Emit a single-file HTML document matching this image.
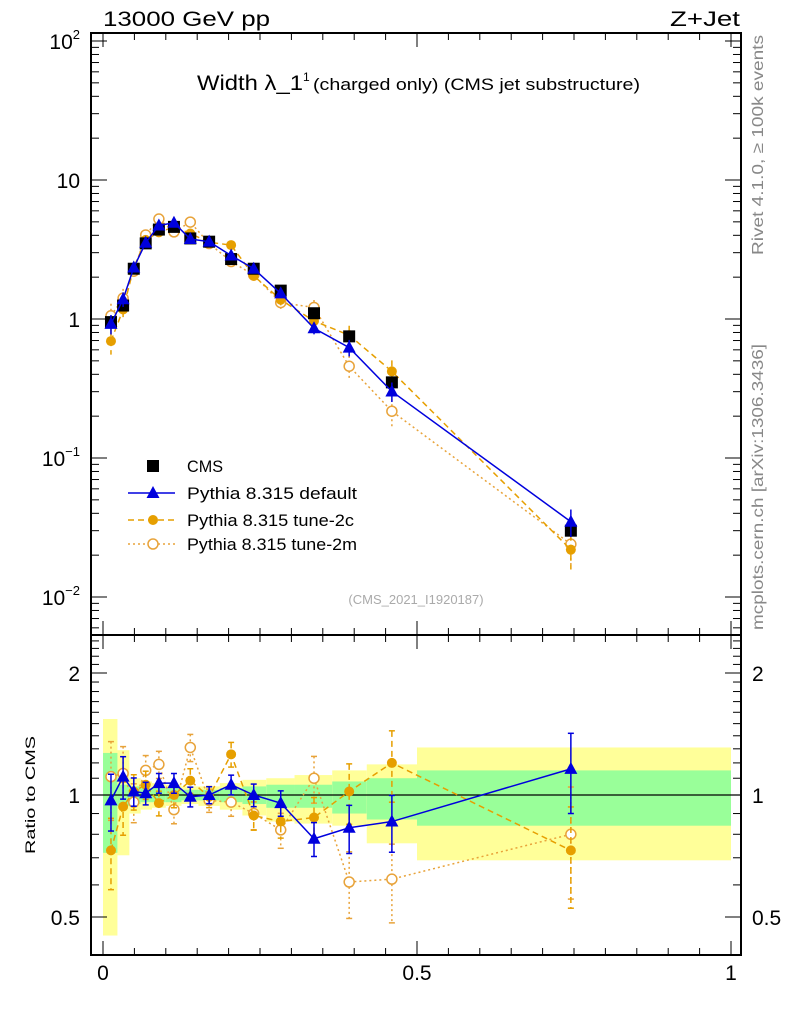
<!DOCTYPE html>
<html><head><meta charset="utf-8"><style>
body{margin:0;background:#fff;}
svg{display:block;font-family:"Liberation Sans",sans-serif;}
</style></head><body>
<svg id="chart" width="786" height="1024" xmlns="http://www.w3.org/2000/svg">
<text x="103" y="26" font-size="21" textLength="167" lengthAdjust="spacingAndGlyphs">13000 GeV pp</text>
<text x="670" y="26" font-size="21" textLength="70" lengthAdjust="spacingAndGlyphs">Z+Jet</text>
<text x="197" y="90" font-size="21"><tspan textLength="106" lengthAdjust="spacingAndGlyphs">Width λ_1</tspan><tspan font-size="12" dy="-9">1</tspan></text>
<text x="313" y="90" font-size="17" textLength="327" lengthAdjust="spacingAndGlyphs">(charged only) (CMS jet substructure)</text>
<text x="416" y="604" font-size="13" fill="#aaa" text-anchor="middle">(CMS_2021_I1920187)</text>
<text transform="translate(763,255) rotate(-90)" font-size="16" fill="#888" textLength="220" lengthAdjust="spacingAndGlyphs">Rivet 4.1.0, ≥ 100k events</text>
<text transform="translate(763,630) rotate(-90)" font-size="16" fill="#888" textLength="286" lengthAdjust="spacingAndGlyphs">mcplots.cern.ch [arXiv:1306.3436]</text>
<text transform="translate(35,795) rotate(-90)" font-size="14" text-anchor="middle" textLength="118" lengthAdjust="spacingAndGlyphs">Ratio to CMS</text>
<g id="bands"></g><g id="axes"></g><g id="series"></g><g id="legend"></g>
</svg>
<script>
const binEdges=[0,0.023,0.042,0.06,0.078,0.1,0.125,0.152,0.186,0.222,0.26,0.305,0.365,0.42,0.5,1.0];
const xCenters=[0.0127,0.032,0.049,0.068,0.089,0.113,0.139,0.169,0.204,0.240,0.283,0.336,0.392,0.460,0.745];
const cmsValues=[0.95,1.25,2.3,3.5,4.4,4.6,3.8,3.6,2.7,2.3,1.6,1.1,0.75,0.35,0.030];
const defaultRatio=[0.97,1.11,1.02,1.01,1.07,1.07,0.99,1.0,1.06,1.0,0.955,0.78,0.83,0.86,1.16];
const tune2cRatio=[0.73,0.936,1.02,1.06,0.955,1.0,1.085,0.99,1.26,0.89,0.86,0.88,1.02,1.2,0.73];
const tune2mRatio=[1.11,1.13,0.96,1.15,1.19,0.92,1.31,0.97,0.96,0.9,0.82,1.10,0.61,0.62,0.80];
const relErr=[0.2,0.15,0.1,0.08,0.07,0.07,0.07,0.06,0.07,0.08,0.09,0.12,0.17,0.2,0.28];
const greenHi=[1.27,1.06,1.05,1.04,1.04,1.04,1.03,1.03,1.04,1.05,1.06,1.06,1.08,1.1,1.15];
const greenLo=[0.72,0.94,0.95,0.96,0.96,0.96,0.97,0.97,0.96,0.95,0.93,0.93,0.9,0.87,0.84];
const yellowHi=[1.54,1.29,1.1,1.08,1.07,1.06,1.05,1.05,1.07,1.09,1.1,1.12,1.15,1.19,1.31];
const yellowLo=[0.45,0.71,0.9,0.92,0.93,0.94,0.95,0.94,0.92,0.89,0.86,0.85,0.84,0.76,0.69];
const mainTicks=[["10","2",100],["10","",10],["1","",1],["10","−1",0.1],["10","−2",0.01]];
const ratioTicks=[["2",2],["1",1],["0.5",0.5]];
const xTicks=[["0",0],["0.5",0.5],["1",1]];

const NS="http://www.w3.org/2000/svg";
const L=91,R=741,T=33,MB=635,RB=955;
const X=v=>103+v*628;
const Y=v=>319-139*Math.log10(v);
const YR=r=>795-122*Math.log2(r);
function mk(tag,attrs,parent){const e=document.createElementNS(NS,tag);for(const k in attrs)e.setAttribute(k,attrs[k]);parent.appendChild(e);return e;}
const bands=document.getElementById('bands'),axes=document.getElementById('axes'),ser=document.getElementById('series'),leg=document.getElementById('legend');

for(let i=0;i<cmsValues.length;i++){
  const x0=X(binEdges[i]),x1=X(binEdges[i+1]);
  const y=mk('rect',{x:x0,y:YR(yellowHi[i]),width:x1-x0,height:YR(yellowLo[i])-YR(yellowHi[i]),fill:'#ffff99'},bands);
  
  
  const g=mk('rect',{x:x0,y:YR(greenHi[i]),width:x1-x0,height:YR(greenLo[i])-YR(greenHi[i]),fill:'#99ff99'},bands);
  
  
}
const f1=mk('rect',{x:L,y:T,width:R-L,height:MB-T,fill:'none',stroke:'#000','stroke-width':2},axes);


const f2=mk('rect',{x:L,y:MB,width:R-L,height:RB-MB,fill:'none',stroke:'#000','stroke-width':2},axes);


const ref=mk('line',{x1:L,x2:R,y1:YR(1),y2:YR(1),stroke:'#000','stroke-width':1.2},axes);


for(let k=0;k<=20;k++){const v=k*0.05,x=X(v),len=k%10==0?14:7;
  for(const yy of [T,MB,RB]){const dir=yy==T?1:-1;
    mk('line',{x1:x,x2:x,y1:yy,y2:yy+dir*len,stroke:'#000','stroke-width':1},axes);
    if(yy==MB) mk('line',{x1:x,x2:x,y1:yy,y2:yy+len,stroke:'#000','stroke-width':1},axes);}
}
for(let d=-3;d<=2;d++)for(let m=1;m<=9;m++){const v=m*Math.pow(10,d);const y=Y(v);if(y<T||y>MB)continue;const len=m==1?16:8;
  mk('line',{x1:L,x2:L+len,y1:y,y2:y,stroke:'#000'},axes);mk('line',{x1:R,x2:R-len,y1:y,y2:y,stroke:'#000'},axes);}
for(const t of mainTicks){const tx=mk('text',{x:80,y:Y(t[2])+8,'font-size':21,'text-anchor':'end'},axes);
  
  
  tx.textContent=t[0];if(t[1]){const s=mk('tspan',{'font-size':13,dy:-10},tx);s.textContent=t[1];}}
for(let r=0.4;r<=2.5;r+=0.1){const y=YR(r);if(y<MB||y>RB)continue;const big=Math.abs(r-1)<1e-6||Math.abs(r-2)<1e-6||Math.abs(r-0.5)<1e-6;const len=big?16:8;
  mk('line',{x1:L,x2:L+len,y1:y,y2:y,stroke:'#000'},axes);mk('line',{x1:R,x2:R-len,y1:y,y2:y,stroke:'#000'},axes);}
for(const t of ratioTicks){for(const [xx,a] of [[80,'end'],[752,'start']]){const tx=mk('text',{x:xx,y:YR(t[1])+8,'font-size':21,'text-anchor':a},axes);
  
  
  tx.textContent=t[0];}}
for(const t of xTicks){const tx=mk('text',{x:X(t[1]),y:980,'font-size':21,'text-anchor':'middle'},axes);
  
  
  tx.textContent=t[0];}

function marker(type,x,y,col,parent){
  if(type=='sq')return mk('rect',{x:x-6,y:y-6,width:12,height:12,fill:'#000'},parent);
  if(type=='tri')return mk('polygon',{points:`${x},${y-7} ${x-6.5},${y+5} ${x+6.5},${y+5}`,fill:col},parent);
  if(type=='fc')return mk('circle',{cx:x,cy:y,r:5,fill:col},parent);
  return mk('circle',{cx:x,cy:y,r:5,fill:'#fff',stroke:col,'stroke-width':1.5},parent);
}
function drawSeries(name,vals,ratios,col,dash,type,lw,errScale){
  const pts=vals.map((v,i)=>[X(xCenters[i]),Y(v)]);
  const rpts=ratios.map((r,i)=>[X(xCenters[i]),YR(r)]);
  const g=mk('g',{},ser);
  
  
  if(col){
    for(const P of [pts,rpts]){const pl=mk('polyline',{points:P.map(p=>p.join(',')).join(' '),fill:'none',stroke:col,'stroke-width':lw,'stroke-dasharray':dash},g);
      
      }
  }
  vals.forEach((v,i)=>{const e=relErr[i]*errScale;const x=X(xCenters[i]);
    const c=col||'#000';
    mk('line',{x1:x,x2:x,y1:Y(v*(1+e)),y2:Y(v*(1-e)),stroke:c,'stroke-width':1.5,'stroke-dasharray':dash},g);
    if(col){const r=ratios[i];mk('line',{x1:x,x2:x,y1:YR(r*(1+e)),y2:YR(r*(1-e)),stroke:c,'stroke-width':1.5,'stroke-dasharray':dash},g);
      for(const yy of [YR(r*(1+e)),YR(r*(1-e))])mk('line',{x1:x-3,x2:x+3,y1:yy,y2:yy,stroke:c,'stroke-width':1.5},g);}
    const m=marker(type,x,Y(v),col,g);
    
    
    if(col){const m2=marker(type,x,YR(ratios[i]),col,g);
      
      }
  });
}
drawSeries('tune-2m',cmsValues.map((v,i)=>v*tune2mRatio[i]),tune2mRatio,'#e8a33a','2,3','oc',1.5,1.1);
drawSeries('tune-2c',cmsValues.map((v,i)=>v*tune2cRatio[i]),tune2cRatio,'#e69f00','6,4','fc',1.5,1.0);
drawSeries('cms',cmsValues,cmsValues.map(()=>1),null,'','sq',1.5,0.3);
drawSeries('default',cmsValues.map((v,i)=>v*defaultRatio[i]),defaultRatio,'#0000dd','','tri',1.5,0.8);

const items=[['CMS',null,'','sq',466,36],['Pythia 8.315 default','#0000dd','','tri',493,170],['Pythia 8.315 tune-2c','#e69f00','6,4','fc',520,167],['Pythia 8.315 tune-2m','#e8a33a','2,3','oc',544,170]];
for(const it of items){const g=mk('g',{},leg);
  
  
  if(it[1])mk('line',{x1:128,x2:175,y1:it[4],y2:it[4],stroke:it[1],'stroke-width':1.5,'stroke-dasharray':it[2]},g);
  marker(it[3],153,it[4],it[1],g);
  const t=mk('text',{x:187,y:it[4]+6,'font-size':17,textLength:it[5],lengthAdjust:'spacingAndGlyphs'},g);t.textContent=it[0];}
</script>
</body></html>
